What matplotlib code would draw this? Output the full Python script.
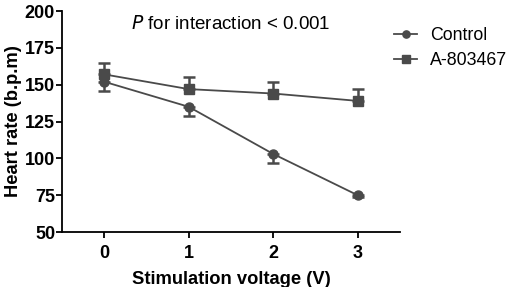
import matplotlib
matplotlib.use("Agg")
import matplotlib.pyplot as plt

plt.rcParams['font.family'] = ['Liberation Sans', 'DejaVu Sans']

voltage = [0, 1, 2, 3]
control = [152, 135, 103, 75]
control_err = [6, 6, 6, 1]
a803467 = [157, 147, 144, 139]
a803467_err = [8, 8, 8, 8]

col = '#4a4a4a'

fig = plt.figure(figsize=(5.1, 2.87), dpi=100)
ax = fig.add_axes([0.1216, 0.1916, 0.6624, 0.770])

# one-sided error bars: control down, A-803467 up
ax.errorbar(voltage, control, yerr=[control_err, [0]*4], color=col, marker='o',
            markersize=6.5, lw=1.3, capsize=4, capthick=1.8, elinewidth=1.8,
            label='Control')
ax.errorbar(voltage, a803467, yerr=[[0]*4, a803467_err], color=col, marker='s',
            markersize=6.5, lw=1.3, capsize=4, capthick=1.8, elinewidth=1.8,
            label='A-803467')

ax.set_xlim(-0.5, 3.5)
ax.set_ylim(50, 200)
ax.set_xticks(voltage)
ax.set_yticks([50, 75, 100, 125, 150, 175, 200])
ax.spines['top'].set_visible(False)
ax.spines['right'].set_visible(False)
for s in ['left', 'bottom']:
    ax.spines[s].set_linewidth(1.3)
ax.tick_params(width=1.3, length=4, labelsize=13)
for lab in ax.get_xticklabels() + ax.get_yticklabels():
    lab.set_fontweight('bold')
ax.tick_params(axis='x', pad=5)
ax.tick_params(axis='y', pad=1)

ax.set_xlabel('Stimulation voltage (V)', fontsize=13.2, fontweight='bold', labelpad=7)
ax.set_ylabel('Heart rate (b.p.m)', fontsize=13.2, fontweight='bold', labelpad=2)

ax.text(0.205, 0.94, r'$\it{P}$ for interaction < 0.001', transform=ax.transAxes,
        fontsize=13.5, va='center', ha='left')

handles, labels = ax.get_legend_handles_labels()
handles = [h[0] for h in handles]
leg = fig.legend(handles, labels, loc='upper left', bbox_to_anchor=(0.745, 0.955),
                 frameon=False, fontsize=12.8, handlelength=1.3, handletextpad=0.7,
                 labelspacing=0.45, markerscale=0.8, borderpad=0.3)

fig.savefig('out.png', dpi=100)
